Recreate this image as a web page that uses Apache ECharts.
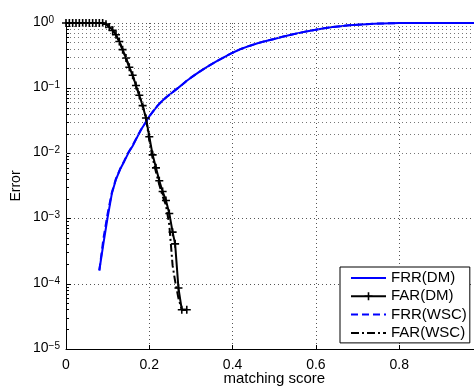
<!DOCTYPE html>
<html><head><meta charset="utf-8">
<script src="https://cdn.jsdelivr.net/npm/echarts@6/dist/echarts.min.js"></script>
<style>html,body{margin:0;padding:0;background:#fff}#c{width:474px;height:389px}</style>
</head><body><div id="c"></div>
<script>
const seriesNames = ['FRR(DM)', 'FAR(DM)', 'FRR(WSC)', 'FAR(WSC)'];
const frrX = [0.08,0.09,0.10,0.11,0.12,0.13,0.14,0.15,0.16,0.17,0.18,0.19,0.20,0.21,0.22,0.23,0.24,0.25,0.26,0.27,0.28,0.29,0.30,
  0.32,0.34,0.36,0.38,0.40,0.42,0.44,0.46,0.48,0.50,0.52,0.54,0.56,0.58,0.60,0.62,0.64,0.66,0.68,0.70,0.72,0.74,0.76,0.78,0.80,
  0.85,0.90,0.95,1.00];
const frrDM = [1.6e-4,4.2e-4,1.05e-3,2.4e-3,4.0e-3,5.7e-3,7.6e-3,0.0102,0.013,0.0173,0.023,0.029,0.037,0.045,0.054,0.063,0.072,0.081,0.091,0.102,0.115,0.13,0.145,
  0.178,0.215,0.255,0.30,0.35,0.40,0.445,0.49,0.53,0.57,0.615,0.66,0.705,0.75,0.79,0.83,0.865,0.895,0.92,0.94,0.96,0.975,0.985,0.992,0.997,
  1,1,1,1];
const frrWSC = [1.6e-4,5.0e-4,1.2e-3,2.5e-3,4.1e-3,5.8e-3,7.7e-3,0.0104,0.0133,0.0175,0.023,0.029,0.037,0.045,0.054,0.063,0.072,0.081,0.091,0.102,0.115,0.13,0.145,
  0.178,0.215,0.255,0.30,0.35,0.40,0.445,0.49,0.53,0.57,0.615,0.66,0.705,0.75,0.79,0.83,0.865,0.895,0.92,0.94,0.96,0.975,0.985,0.992,0.997,
  1,1,1,1];
const farX = [0,0.008,0.016,0.024,0.032,0.040,0.048,0.056,0.064,0.072,0.080,0.088,0.096,0.104,0.112,0.120,0.128,0.136,0.144,0.152,0.160,0.168,0.176,0.184,0.192,0.200,0.208,0.216,0.224,0.232,0.240,0.248,0.256,0.262,0.270,0.278,0.290];
const farDM = [1,1,1,1,1,1,1,1,1,1,1,1,0.96,0.87,0.77,0.66,0.52,0.39,0.29,0.21,0.158,0.11,0.078,0.054,0.035,0.018,0.0095,0.006,0.0038,0.0026,0.0019,0.0012,0.00062,0.00041,0.000086,0.00004,0.00004];
const farWSC = [1,1,1,1,1,1,1,1,1,1,1,1,0.96,0.87,0.77,0.66,0.52,0.39,0.29,0.21,0.158,0.11,0.078,0.054,0.035,0.016,0.0085,0.0052,0.0033,0.0022,0.0016,0.0008,0.00019,0.00011,0.00006,0.00004,0.00004];
const yExponents = [-5,-4,-3,-2,-1,0];
const xTickLabels = ['0','0.2','0.4','0.6','0.8','1'];

const FONT = '"Liberation Sans", Arial, Helvetica, sans-serif';
const minorVals = [];
yExponents.slice(0, -1).forEach(e => { for (let m = 2; m <= 9; m++) minorVals.push(m * Math.pow(10, e)); });
const plusPath = 'path://M-1,-0.2H-0.2V-1H0.2V-0.2H1V0.2H0.2V1H-0.2V0.2H-1Z';
const pair = (xs, ys) => xs.map((x, i) => [x, ys[i]]);

const chart = echarts.init(document.getElementById('c'), null, {renderer: 'canvas'});
chart.setOption({
  animation: false,
  backgroundColor: '#fff',
  textStyle: {fontFamily: FONT},
  grid: {left: 66, top: 23, height: 326, width: 416.5, containLabel: false, outerBoundsMode: 'none'},
  legend: {
    data: [
      {name: 'FRR(DM)', itemStyle: {opacity: 0}},
      {name: 'FAR(DM)'},
      {name: 'FRR(WSC)', itemStyle: {opacity: 0}},
      {name: 'FAR(WSC)', itemStyle: {opacity: 0}}
    ],
    orient: 'vertical', left: 340, top: 267,
    itemWidth: 35, itemHeight: 10, itemGap: 2.3,
    padding: [3, 3, 2, 10],
    borderColor: '#000', borderWidth: 1, backgroundColor: '#fff',
    textStyle: {fontSize: 15, color: '#000', fontFamily: FONT, lineHeight: 16}
  },
  xAxis: {
    type: 'value', min: 0, max: 1, interval: 0.2,
    name: 'matching score', nameLocation: 'middle', nameGap: 22, nameMoveOverlap: false,
    nameTextStyle: {fontSize: 15, color: '#000', fontFamily: FONT},
    axisLine: {lineStyle: {color: '#000', width: 1}},
    axisTick: {inside: true, length: 4, lineStyle: {color: '#000'}},
    axisLabel: {fontSize: 14, color: '#000', margin: 9, fontFamily: FONT,
      formatter: v => xTickLabels[Math.round(v / 0.2)]},
    splitLine: {show: true, lineStyle: {type: [1, 3], color: '#555', width: 1}}
  },
  yAxis: {
    type: 'log', logBase: 10, min: 1e-5, max: 1,
    name: 'Error', nameLocation: 'middle', nameGap: 43, nameRotate: 90, nameMoveOverlap: false,
    nameTextStyle: {fontSize: 14, color: '#000', fontFamily: FONT},
    axisLine: {show: true, lineStyle: {color: '#000', width: 1}},
    axisTick: {inside: true, length: 5, lineStyle: {color: '#000'}},
    axisLabel: {
      align: 'left', margin: 33, padding: [0, 0, 2, 0], color: '#000',
      formatter: v => {
        const e = Math.round(Math.log10(v));
        return '{b|10}{s|' + (e < 0 ? '\u2212' + (-e) : e) + '}';
      },
      rich: {
        b: {fontSize: 14, lineHeight: 14, padding: [5, 0, 0, 0], fontFamily: FONT, color: '#000', verticalAlign: 'bottom'},
        s: {fontSize: 10, lineHeight: 10, fontFamily: FONT, color: '#000', verticalAlign: 'top'}
      }
    },
    splitLine: {show: true, lineStyle: {type: [1, 3], color: '#555', width: 1}}
  },
  series: [
    {
      name: 'grid-minor', type: 'line', data: [], z: 1, silent: true,
      markLine: {
        silent: true, symbol: ['none', 'none'], animation: false,
        label: {show: false},
        lineStyle: {type: [1, 3], color: '#777', width: 1},
        data: minorVals.map(v => ({yAxis: v})).concat(
          minorVals.map(v => [{coord: [0, v], lineStyle: {type: 'solid', color: '#000', width: 1}}, {coord: [0.0072, v]}]))
      }
    },
    {
      name: 'FRR(DM)', type: 'line', data: pair(frrX, frrDM), symbol: 'none', clip: false, z: 3,
      color: '#0000ff', lineStyle: {color: '#0000ff', width: 2}
    },
    {
      name: 'FAR(DM)', type: 'line', data: pair(farX, farDM), clip: false, z: 4,
      symbol: plusPath, symbolSize: 8, showSymbol: true,
      color: '#000', itemStyle: {color: '#000'}, lineStyle: {color: '#000', width: 2}
    },
    {
      name: 'FRR(WSC)', type: 'line', data: pair(frrX, frrWSC), symbol: 'none', clip: false, z: 5,
      color: '#0000ff', lineStyle: {color: '#0000ff', width: 2, type: [7, 4]}
    },
    {
      name: 'FAR(WSC)', type: 'line', data: pair(farX, farWSC), symbol: 'none', clip: false, z: 6,
      color: '#000', lineStyle: {color: '#000', width: 2, type: [8, 3, 2, 3]}
    }
  ]
});
</script>
</body></html>
